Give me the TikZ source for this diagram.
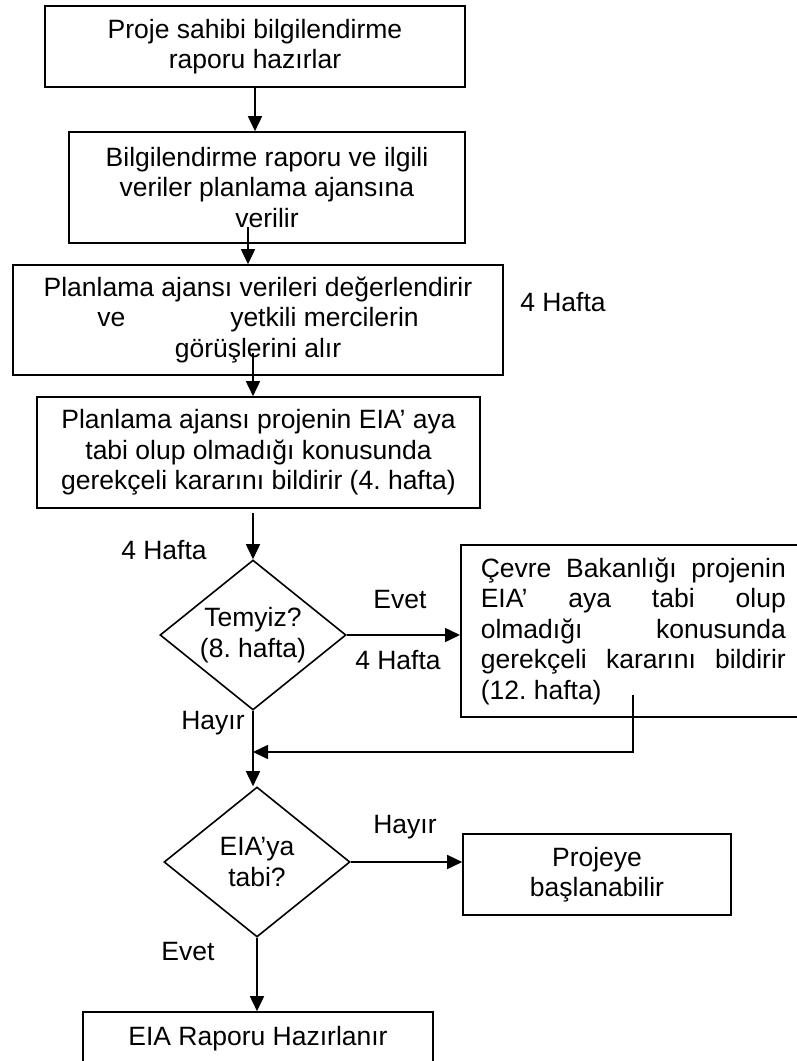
\documentclass[tikz,border=0pt]{standalone}
\usepackage{fontspec}
\setmainfont{Liberation Sans}
\usetikzlibrary{shapes.geometric,arrows.meta}
\frenchspacing

\begin{document}
\begin{tikzpicture}[x=1pt,y=-1pt,
  every node/.style={font=\fontsize{26.5}{30.5}\selectfont},
  box/.style={draw,line width=1.6pt,align=center,inner sep=0pt},
  karar/.style={draw,diamond,aspect=1.24,line width=1.6pt,align=center,inner sep=0pt,minimum width=186pt,minimum height=150pt},
  arr/.style={line width=1.6pt,-{Triangle[length=15pt,width=14pt]}}]
\useasboundingbox (0,0) rectangle (797,1061);
% kutular
\node[box,minimum width=420pt,minimum height=81pt] (b1) at (255,46.5) {Proje sahibi bilgilendirme\\raporu hazırlar};
\node[box,minimum width=396pt,minimum height=111pt] (b2) at (267,187.5) {Bilgilendirme raporu ve ilgili\\veriler planlama ajansına\\verilir};
\node[box,minimum width=490pt,minimum height=110pt] (b3) at (258,320) {Planlama ajansı verileri değerlendirir\\ve\hspace*{105pt}yetkili mercilerin\\görüşlerini alır};
\node[box,minimum width=443pt,minimum height=111pt] (b4) at (258.5,452.5) {Planlama ajansı projenin EIA’ aya\\tabi olup olmadığı konusunda\\gerekçeli kararını bildirir (4. hafta)};
\node[karar] (d1) at (253,635) {Temyiz?\\(8. hafta)};
\node[box,anchor=west,align=justify,text width=305pt,inner xsep=20pt,minimum height=172pt] (b5) at (460,631) {Çevre Bakanlığı projenin\linebreak EIA’ aya tabi olup\linebreak olmadığı konusunda\linebreak gerekçeli kararını bildirir\linebreak (12. hafta)};
\node[karar] (d2) at (257,862) {EIA’ya\\tabi?};
\node[box,minimum width=268pt,minimum height=81pt] (b6) at (597,874.5) {Projeye\\başlanabilir};
\node[box,minimum width=350pt,minimum height=54pt] (b7) at (258,1039) {EIA Raporu Hazırlanır};
% etiketler
\node (h1) at (563,302) {4 Hafta};
\node (h2) at (164,550) {4 Hafta};
\node (evet1) at (400,600) {Evet};
\node (h3) at (398,660) {4 Hafta};
\node (hayir1) at (213,723) {Hayır};
\node (hayir2) at (405,827) {Hayır};
\node (evet2) at (188,952) {Evet};
% oklar
\coordinate (v2) at (248,227);
\coordinate (v3) at (253,353);
\coordinate (v4) at (253,513);
\coordinate (v5) at (633,695);
\coordinate (join) at (253,752);
\draw[arr] (b1.south) -- (b1.south |- b2.north);
\draw[arr] (v2) -- (v2 |- b3.north);
\draw[arr] (v3) -- (v3 |- b4.north);
\draw[arr] (v4) -- (d1.north);
\draw[arr] (d1.east) -- (d1.east -| b5.west);
\draw[arr] (d1.south) -- (d1.south |- d2.north);
\draw[arr] (v5) |- (join);
\draw[arr] (d2.east) -- (d2.east -| b6.west);
\draw[arr] (d2.south) -- (d2.south |- b7.north);
\end{tikzpicture}
\end{document}
